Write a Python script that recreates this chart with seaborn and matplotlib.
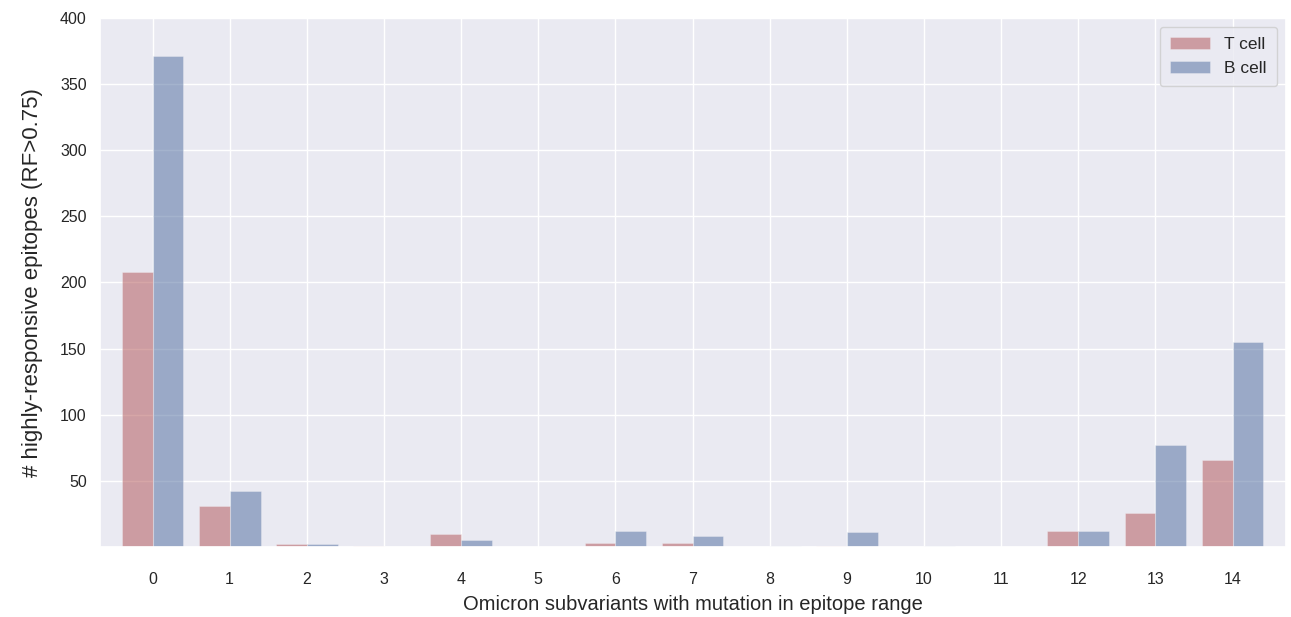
import matplotlib
matplotlib.use("Agg")
import matplotlib.pyplot as plt
import pandas as pd
import seaborn as sns

# Number of Omicron subvariants carrying a mutation inside the epitope range
subvariants = list(range(15))
t_cell = [208, 31, 2, 1, 10, 0, 3, 3, 0, 1, 0, 0, 12, 26, 66]
b_cell = [371, 42, 2, 0, 5, 0, 12, 8, 1, 11, 1, 0, 12, 77, 155]
series_names = ["T cell", "B cell"]
y_ticks = [50, 100, 150, 200, 250, 300, 350, 400]

sns.set_theme(style="darkgrid", color_codes=True)
plt.rcParams["font.family"] = ["Liberation Sans", "DejaVu Sans"]

df = pd.DataFrame({
    "subvariants": subvariants * 2,
    "count": t_cell + b_cell,
    "cell": [series_names[0]] * len(t_cell) + [series_names[1]] * len(b_cell),
})

fig = plt.figure(figsize=(12.91, 6.17), dpi=100)
ax = fig.add_axes([0.0775, 0.1135, 0.9185, 0.8575])

sns.barplot(data=df, x="subvariants", y="count", hue="cell",
            palette=["r", "b"], alpha=0.55, edgecolor="#f4f4f8",
            linewidth=0.4, width=0.8, ax=ax)

ax.set_xlim(-0.68, 14.69)
ax.set_ylim(0, 400)
ax.set_yticks(y_ticks)
ax.xaxis.grid(True)
ax.yaxis.grid(True)
ax.set_axisbelow(True)
ax.tick_params(axis="both", labelsize=11.5, colors="#262626")
ax.tick_params(axis="x", pad=12)
ax.set_xlabel("Omicron subvariants with mutation in epitope range",
              fontsize=14.5, labelpad=6)
ax.set_ylabel("# highly-responsive epitopes (RF>0.75)", fontsize=16,
              labelpad=12)

ax.legend(loc="upper right", fontsize=12.5, frameon=True,
          handlelength=2.3, borderpad=0.6)

fig.savefig("out.png", dpi=100)
